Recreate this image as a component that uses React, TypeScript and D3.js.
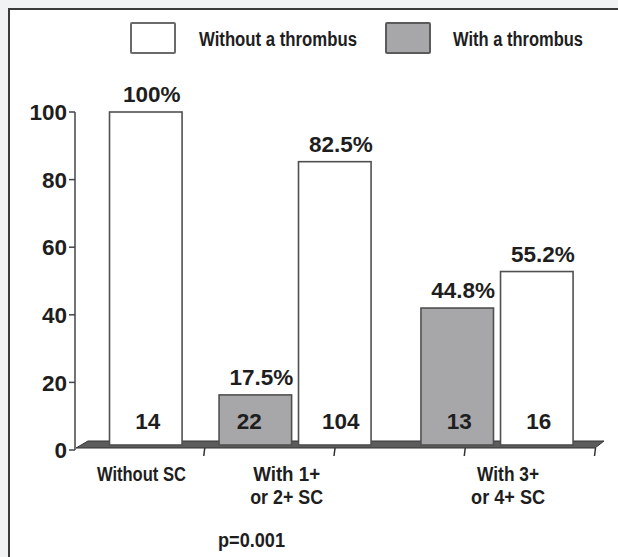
import React from "react";
import * as d3 from "d3";

// ---- data ----
const groupLabels: string[][] = [["Without SC"], ["With 1+", "or 2+ SC"], ["With 3+", "or 4+ SC"]];
const seriesNames = ["Without a thrombus", "With a thrombus"];
// bars left to right: series (0 = without, 1 = with a thrombus)
const barSeries = [0, 1, 0, 1, 0];
// bar heights read against the y axis
const barValues = [100, 16.3, 85.3, 42, 52.8];
const percentLabels = ["100%", "17.5%", "82.5%", "44.8%", "55.2%"];
const barCounts = ["14", "22", "104", "13", "16"];
const yTicks = [0, 20, 40, 60, 80, 100];
const pValue = "p=0.001";

// ---- layout (x in floor units, 4 units across the floor) ----
const barPos = [0.265, 1.106, 1.716, 2.656, 3.267];
const barWidthU = 0.557;
const groupCenterU = [0.51, 1.625, 3.325];
const floorTicks = [1, 2, 3, 4];
const xLabelWidths = [[89], [67, 73], [62, 74]];

const W = 618;
const H = 557;
const narrow = "'Liberation Sans Narrow', 'Arial Narrow', 'Liberation Sans', sans-serif";
const sans = "'Liberation Sans', Arial, Helvetica, sans-serif";
const GRAY = "#a7a7a9";
const STROKE = "#505050";
const TEXT = "#1e1e1e";

export default function App() {
  const x = d3.scaleLinear().domain([0, 4]).range([75, 596]);
  const y = d3.scaleLinear().domain([0, 100]).range([450, 112]);
  const base = 445;
  const bw = x(barWidthU) - x(0);

  const floorPts: [number, number][] = [
    [76, 448],
    [88, 441],
    [604, 441],
    [595, 448],
  ];

  const boldSans = { fontFamily: sans, fontWeight: 700 } as React.CSSProperties;
  const boldNarrow = { fontFamily: narrow, fontWeight: 700 } as React.CSSProperties;

  return (
    <svg width={W} height={H} style={{ position: "absolute", left: 0, top: 0, display: "block" }}>
      <rect x={0} y={0} width={W} height={H} fill="#f1f2f4" />
      <rect x={9} y={9} width={W + 20} height={H + 20} fill="#fff" stroke="#3a3a3a" strokeWidth={2} />

      {/* legend */}
      <rect x={131} y={23} width={44} height={30} fill="#fff" stroke="#6a6a6a" strokeWidth={2} rx={1} />
      <text x={199} y={46} style={boldNarrow} fontSize={20} fill={TEXT} textLength={158} lengthAdjust="spacingAndGlyphs">
        {seriesNames[0]}
      </text>
      <rect x={386} y={23} width={44} height={30} fill={GRAY} stroke="#5a5a5a" strokeWidth={2} rx={1} />
      <text x={453} y={46} style={boldNarrow} fontSize={20} fill={TEXT} textLength={130} lengthAdjust="spacingAndGlyphs">
        {seriesNames[1]}
      </text>

      {/* y axis */}
      <line x1={75} x2={75} y1={y(100)} y2={y(0)} stroke="#444" strokeWidth={1.5} />
      {yTicks.map((t) => (
        <g key={t}>
          <line x1={69} x2={75} y1={y(t)} y2={y(t)} stroke="#444" strokeWidth={1.5} />
          <text x={67} y={y(t)} dy="0.36em" textAnchor="end" style={boldSans} fontSize={22.5} fill={TEXT}>
            {t}
          </text>
        </g>
      ))}

      {/* floor */}
      <polygon points={floorPts.map((p) => p.join(",")).join(" ")} fill="#5c5c5c" stroke="#333" strokeWidth={1} />
      {floorTicks.map((t) => (
        <line key={t} x1={x(t) - 0.5} x2={x(t) - 1.5} y1={448} y2={456} stroke="#333" strokeWidth={1.5} />
      ))}

      {/* bars */}
      {barValues.map((v, i) => {
        const x0 = x(barPos[i]);
        const top = y(v);
        const cx = x0 + bw / 2;
        return (
          <g key={i}>
            <rect x={x0} y={top} width={bw} height={base - top} fill={barSeries[i] === 1 ? GRAY : "#fff"} stroke={STROKE} strokeWidth={1.6} />
            <text x={cx + 6} y={top - 10} textAnchor="middle" style={boldSans} fontSize={22.5} fill={TEXT}>
              {percentLabels[i]}
            </text>
            <text x={cx + (i === 1 ? -6 : i === 2 ? 6 : 2)} y={429} textAnchor="middle" style={boldSans} fontSize={22.5} fill={TEXT}>
              {barCounts[i]}
            </text>
          </g>
        );
      })}

      {/* x labels */}
      {groupLabels.map((lines, gi) =>
        lines.map((l, li) => (
          <text
            key={gi + "-" + li}
            x={x(groupCenterU[gi])}
            y={481 + li * 23}
            textAnchor="middle"
            style={boldNarrow}
            fontSize={20.5}
            fill={TEXT}
            textLength={xLabelWidths[gi][li]}
            lengthAdjust="spacingAndGlyphs"
          >
            {l}
          </text>
        ))
      )}

      <text x={251.5} y={547} textAnchor="middle" style={boldNarrow} fontSize={20.5} fill={TEXT} textLength={67} lengthAdjust="spacingAndGlyphs">
        {pValue}
      </text>
    </svg>
  );
}
